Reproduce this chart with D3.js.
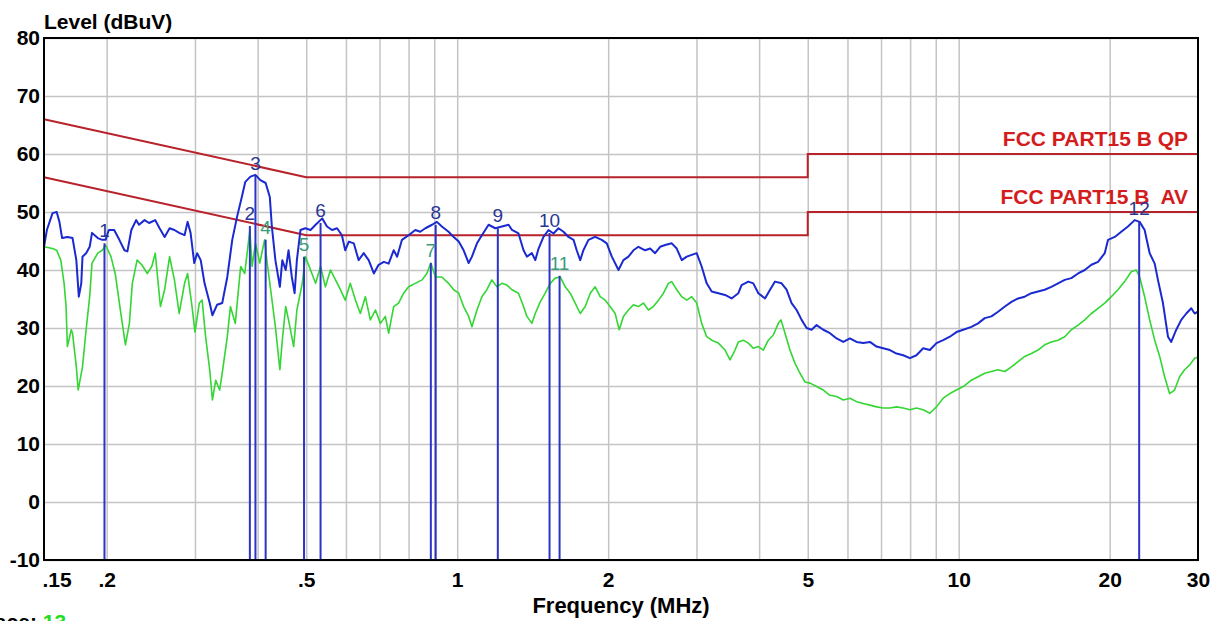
<!DOCTYPE html>
<html>
<head>
<meta charset="utf-8">
<script src="https://cdn.jsdelivr.net/npm/d3@7"></script>
<style>
  body { margin: 0; background: #fff; }
  svg { display: block; }
</style>
</head>
<body>
<div class="emichart"></div>
<script>
// conducted emission scan, 0.15 - 30 MHz
let margin = {top: 38, right: 31, bottom: 61, left: 44};
let W = 1229, H = 621;
let width = W - margin.left - margin.right,
    height = H - margin.top - margin.bottom;

let peakColor = "#1a2ad0";
let avgColor = "#33d633";
let limitColor = "#b8222a";

// axis ticks
const yTicks = [-10, 0, 10, 20, 30, 40, 50, 60, 70, 80];
const xTickVals = [0.15, 0.2, 0.5, 1, 2, 5, 10, 20, 30];
const xTickLabels = [".15", ".2", ".5", "1", "2", "5", "10", "20", "30"];
const xGridVals = [0.2, 0.3, 0.4, 0.5, 0.6, 0.7, 0.8, 0.9, 1, 2, 3, 4, 5, 6, 7, 8, 9, 10, 20];

// limit lines (MHz, dBuV)
const qpLimitFreq = [0.15, 0.5, 5, 5, 30];
const qpLimitLevel = [66, 56, 56, 60, 60];
const avLimitFreq = [0.15, 0.5, 5, 5, 30];
const avLimitLevel = [56, 46, 46, 50, 50];

// blue trace
const peakFreq = [0.150,0.152,0.156,0.159,0.161,0.163,0.167,0.171,0.174,0.176,0.178,0.179,0.182,0.185,0.187,0.192,0.196,0.199,
  0.202,0.207,0.212,0.217,0.220,0.224,0.229,0.232,0.238,0.243,0.250,0.255,0.261,0.267,0.273,0.279,0.286,0.290,0.294,0.299,
  0.303,0.308,0.3135,0.321,0.325,0.332,0.340,0.348,0.356,0.364,0.372,0.378,0.387,0.396,0.405,0.415,0.423,0.427,
  0.434,0.443,0.448,0.455,0.461,0.468,0.474,0.479,0.487,0.498,0.510,0.522,0.538,0.550,0.563,0.576,0.589,0.598,0.608,0.622,
  0.636,0.651,0.666,0.682,0.697,0.714,0.730,0.747,0.759,0.776,0.800,0.825,0.844,0.864,0.891,0.911,0.932,0.961,0.984,
  1.007,1.030,1.054,1.070,1.095,1.120,1.155,1.191,1.228,1.266,1.286,1.325,1.356,1.377,1.409,1.431,1.453,1.486,1.521,1.556,
  1.592,1.629,1.667,1.706,1.731,1.759,1.785,1.827,1.884,1.942,1.987,2.034,2.097,2.145,2.195,2.246,2.298,2.370,2.425,2.481,
  2.539,2.598,2.678,2.740,2.804,2.869,2.935,3.003,3.072,3.144,3.217,3.317,3.420,3.525,3.636,3.690,3.806,3.894,3.985,4.109,
  4.205,4.302,4.434,4.537,4.642,4.751,4.861,4.974,5.090,5.207,5.370,5.538,5.708,5.886,6.069,6.256,6.451,6.652,6.857,7.070,
  7.291,7.515,7.749,7.992,8.237,8.494,8.758,9.029,9.311,9.601,9.896,10.21,10.60,10.93,11.27,11.62,11.98,12.36,12.74,13.13,
  13.54,13.96,14.39,14.84,15.30,15.78,16.27,16.77,17.30,17.84,18.39,18.96,19.55,19.85,20.47,21.09,21.75,22.43,22.95,23.48,
  24.03,24.59,24.96,25.54,26.14,26.53,27.15,27.78,28.43,29.09,29.54,30.0];
const peakLevel = [44.0,46.9,49.8,50.0,48.3,45.5,45.7,45.5,41.7,35.4,37.7,42.3,42.9,44.0,46.4,45.5,45.2,45.2,
  46.9,46.9,45.2,43.4,43.2,46.9,48.6,47.8,48.6,48.1,48.6,47.2,45.7,47.2,46.9,46.4,46.0,48.3,46.4,41.2,
  42.9,41.7,37.7,34.3,32.2,34.0,34.3,38.8,45.2,49.2,52.6,55.2,56.1,56.4,55.5,55.0,52.6,47.5,
  41.7,37.1,41.7,40.0,43.4,38.8,36.0,41.7,46.9,47.2,46.9,47.8,48.9,47.5,46.9,47.2,46.0,43.4,44.9,44.6,
  41.7,42.9,41.7,39.4,40.9,41.4,41.1,43.4,42.3,45.2,46.0,46.9,46.6,47.2,47.8,48.3,47.5,46.6,45.7,
  44.9,43.4,41.2,42.3,44.6,46.0,47.8,47.2,47.5,47.8,46.9,46.3,43.4,42.3,42.9,41.7,43.7,45.7,46.9,46.3,
  47.2,46.6,45.7,45.2,43.4,41.7,43.4,45.2,45.7,45.2,44.6,42.3,40.0,41.7,42.3,43.4,44.0,43.4,43.7,42.9,
  44.0,44.3,44.6,43.7,41.7,42.3,42.6,42.9,40.6,37.7,36.3,36.0,35.7,35.1,36.0,37.4,38.0,37.7,36.0,35.1,
  36.6,38.0,37.7,36.6,34.3,33.1,31.4,30.0,29.7,30.5,29.7,29.1,28.2,27.6,28.2,27.6,27.4,27.6,26.8,26.5,
  26.2,25.6,25.3,24.8,25.3,26.5,26.2,27.4,27.9,28.5,29.3,29.7,30.2,30.8,31.7,32.0,32.8,33.7,34.5,35.1,
  35.4,36.0,36.3,36.6,37.1,37.7,38.3,38.6,39.4,40.0,40.9,41.4,42.9,45.2,45.7,46.6,47.5,48.6,48.3,46.9,
  42.9,41.1,38.3,34.3,28.5,27.6,29.7,31.4,32.5,33.4,32.5,32.8];

// green trace
const avgFreq = [0.150,0.156,0.159,0.162,0.1645,0.166,0.167,0.170,0.171,0.174,0.1755,0.179,0.182,0.185,0.187,0.192,0.196,0.199,
  0.204,0.208,0.213,0.218,0.222,0.225,0.230,0.235,0.241,0.246,0.250,0.256,0.261,0.267,0.273,0.279,0.286,0.290,0.296,0.300,
  0.306,0.310,0.315,0.321,0.325,0.330,0.336,0.340,0.348,0.353,0.361,0.370,0.377,0.386,0.390,0.396,0.404,0.413,0.418,0.427,
  0.434,0.443,0.448,0.455,0.461,0.472,0.479,0.491,0.498,0.510,0.522,0.534,0.546,0.559,0.572,0.585,0.598,0.612,0.627,0.641,
  0.656,0.671,0.687,0.703,0.719,0.730,0.747,0.764,0.782,0.800,0.825,0.851,0.870,0.886,0.905,0.932,0.961,0.984,1.007,1.030,
  1.054,1.070,1.095,1.120,1.146,1.172,1.200,1.228,1.256,1.286,1.325,1.356,1.377,1.409,1.431,1.464,1.498,1.533,1.568,1.605,
  1.642,1.680,1.719,1.759,1.800,1.842,1.884,1.928,1.973,2.018,2.065,2.104,2.145,2.195,2.246,2.298,2.351,2.406,2.461,2.520,
  2.578,2.637,2.678,2.740,2.804,2.869,2.935,3.003,3.072,3.144,3.217,3.317,3.420,3.500,3.581,3.636,3.720,3.806,3.894,3.985,
  4.078,4.172,4.269,4.368,4.422,4.504,4.608,4.716,4.825,4.937,5.052,5.207,5.370,5.538,5.708,5.886,6.069,6.256,6.451,6.652,
  6.857,7.070,7.291,7.515,7.749,7.992,8.237,8.494,8.758,9.029,9.311,9.601,9.896,10.21,10.60,10.93,11.27,11.62,11.98,12.36,
  12.74,13.13,13.54,13.96,14.39,14.84,15.30,15.78,16.27,16.77,17.30,17.84,18.39,18.96,19.55,20.15,20.77,21.42,22.08,22.59,
  22.95,23.48,24.03,24.59,25.16,25.74,26.33,26.94,27.57,28.21,28.86,29.54,30.0];
const avgLevel = [44.0,43.7,43.4,41.7,37.7,33.7,26.8,29.7,29.1,23.3,19.3,23.3,29.7,35.4,41.2,42.9,43.4,44.3,
  42.3,39.4,33.1,27.1,30.8,37.7,41.7,40.9,39.4,40.6,42.9,33.7,36.6,42.3,38.3,32.5,37.7,39.4,33.7,29.3,
  34.3,34.8,28.5,22.8,17.6,21.0,19.3,22.2,28.5,33.7,30.8,40.6,39.4,46.9,40.6,44.6,41.2,45.2,41.2,35.0,
  30.2,22.8,27.9,33.7,31.4,26.8,33.1,37.7,42.3,40.0,37.7,40.6,37.1,40.0,38.3,36.6,34.8,37.7,34.8,32.5,
  35.4,31.4,33.1,30.8,32.0,29.1,33.7,34.3,36.0,37.1,37.7,38.3,39.4,41.2,38.8,38.8,37.7,36.6,36.0,33.7,
  32.0,30.2,33.1,35.4,36.6,38.3,37.1,37.7,37.4,36.6,36.0,33.7,32.0,30.8,32.5,34.5,36.0,37.7,38.6,38.8,
  37.1,36.0,34.3,32.5,33.7,36.0,37.1,35.4,34.8,33.7,32.5,29.7,32.0,33.1,34.0,33.7,34.3,33.1,33.7,34.8,
  36.0,37.7,38.0,36.6,35.4,34.8,35.4,34.3,30.8,28.5,27.9,27.4,26.2,24.5,26.2,27.6,27.9,27.4,26.5,26.8,
  26.2,27.9,28.8,30.8,31.4,29.1,26.2,23.9,22.2,20.7,20.5,19.9,19.3,18.4,18.2,17.6,17.9,17.3,17.0,16.7,
  16.4,16.2,16.2,16.4,16.2,15.9,16.2,15.9,15.3,16.4,17.9,18.7,19.3,19.9,21.0,21.6,22.2,22.5,22.8,22.5,
  23.3,24.2,25.1,25.6,26.2,27.1,27.6,27.9,28.5,29.7,30.5,31.4,32.5,33.4,34.3,35.4,36.6,38.0,39.7,40.0,
  38.8,35.4,31.4,27.9,25.1,21.6,18.7,19.3,21.6,22.8,23.6,24.8,25.0];

// markers
const markerNames = ["1","2","3","4","5","6","7","8","9","10","11","12"];
const markerFreq = [0.198, 0.386, 0.396, 0.415, 0.495, 0.534, 0.886, 0.906, 1.205, 1.528, 1.600, 22.9];
const markerLevel = [44.6, 47.6, 56.2, 45.2, 42.3, 48.1, 41.2, 47.8, 47.2, 46.4, 39.0, 48.4];
const markerType = ["QP","QP","QP","AV","AV","QP","AV","QP","QP","QP","AV","QP"];

const limitNames = ["FCC PART15 B QP", "FCC PART15 B  AV"];

let svg = d3.select(".emichart").append("svg")
    .attr("width", W)
    .attr("height", H)
    .style("font-family", "'Liberation Sans', Arial, sans-serif");

let g = svg.append("g")
    .attr("transform", "translate(" + margin.left + "," + margin.top + ")");

const xScale = d3.scaleLog()
    .domain([0.15, 30])
    .range([0, width]);

const yScale = d3.scaleLinear()
    .domain([-10, 80])
    .range([height, 0]);

// grid
let xg = g.append("g")
    .attr("transform", `translate(0, ${height})`)
    .call(d3.axisBottom(xScale).tickValues(xGridVals).tickSize(-height).tickFormat(""));
xg.select(".domain").remove();
xg.selectAll("line").attr("stroke", "#c4c4c4").attr("stroke-width", 1.5);

let yg = g.append("g")
    .call(d3.axisLeft(yScale).tickValues(yTicks).tickSize(-width).tickFormat(""));
yg.select(".domain").remove();
yg.selectAll("line").attr("stroke", "#c4c4c4").attr("stroke-width", 1.5);

// tick labels
let xa = g.append("g")
    .attr("transform", `translate(0, ${height})`)
    .call(d3.axisBottom(xScale).tickValues(xTickVals)
        .tickFormat((d, i) => xTickLabels[i]).tickSize(0).tickPadding(12));
xa.select(".domain").remove();
xa.selectAll("text")
    .attr("font-size", 21).attr("font-weight", "bold").attr("fill", "#000")
    .attr("font-family", "'Liberation Sans', Arial, sans-serif");
xa.selectAll("text").filter(d => d === 0.15).attr("text-anchor", "start").attr("x", -2);

let ya = g.append("g")
    .call(d3.axisLeft(yScale).tickValues(yTicks)
        .tickFormat(d => String(d)).tickSize(0).tickPadding(4));
ya.select(".domain").remove();
ya.selectAll("text")
    .attr("font-size", 21).attr("font-weight", "bold").attr("fill", "#000")
    .attr("font-family", "'Liberation Sans', Arial, sans-serif");

// limit lines
let limitLine = d3.line()
    .x(d => xScale(d[0]))
    .y(d => yScale(d[1]));

[[qpLimitFreq, qpLimitLevel], [avLimitFreq, avLimitLevel]].forEach(function(l, i){
    g.append("path")
        .datum(d3.zip(l[0], l[1]))
        .attr("fill", "none")
        .attr("stroke", limitColor)
        .attr("stroke-width", 2)
        .attr("d", limitLine);
    g.append("text")
        .attr("x", width - 10)
        .attr("y", yScale(l[1][l[1].length - 1]) - 8)
        .attr("text-anchor", "end")
        .attr("font-size", 21)
        .attr("font-weight", "bold")
        .attr("fill", "#d41c1c")
        .style("white-space", "pre")
        .text(limitNames[i]);
});

// traces
g.append("path")
    .datum(d3.zip(avgFreq, avgLevel))
    .attr("fill", "none")
    .attr("stroke", avgColor)
    .attr("stroke-width", 1.6)
    .attr("stroke-linejoin", "round")
    .attr("d", limitLine);

g.append("path")
    .datum(d3.zip(peakFreq, peakLevel))
    .attr("fill", "none")
    .attr("stroke", peakColor)
    .attr("stroke-width", 2)
    .attr("stroke-linejoin", "round")
    .attr("d", limitLine);

// marker lines + numbers
let markers = d3.range(markerNames.length).map(i => ({
    name: markerNames[i], f: markerFreq[i], v: markerLevel[i], t: markerType[i]
}));

g.selectAll(".mline")
    .data(markers)
    .enter().append("line")
    .attr("class", "mline")
    .attr("x1", d => xScale(d.f))
    .attr("x2", d => xScale(d.f))
    .attr("y1", d => yScale(d.v))
    .attr("y2", yScale(-10))
    .attr("stroke", "#2c34c8")
    .attr("stroke-width", 2);

g.selectAll(".mlabel")
    .data(markers)
    .enter().append("text")
    .attr("class", "mlabel")
    .attr("x", d => xScale(d.f))
    .attr("y", d => yScale(d.v) - 6)
    .attr("text-anchor", "middle")
    .attr("font-size", 19)
    .attr("fill", d => d.t === "QP" ? "#2a3594" : "#3a9c78")
    .text(d => d.name);

// frame
g.append("rect")
    .attr("width", width)
    .attr("height", height)
    .attr("fill", "none")
    .attr("stroke", "#000")
    .attr("stroke-width", 2);

// titles
svg.append("text")
    .attr("x", margin.left)
    .attr("y", 29)
    .attr("font-size", 21)
    .attr("font-weight", "bold")
    .text("Level (dBuV)");

svg.append("text")
    .attr("x", 621)
    .attr("y", 613)
    .attr("text-anchor", "middle")
    .attr("font-size", 22)
    .attr("font-weight", "bold")
    .text("Frequency (MHz)");

// trace count, cut by the bottom edge as in the scan printout
let tr = svg.append("text")
    .attr("x", -25)
    .attr("y", 629)
    .attr("font-size", 21)
    .attr("font-weight", "bold");
tr.append("tspan").text("Trace: ");
tr.append("tspan").attr("fill", "#22dd22").text("13");
</script>
</body>
</html>
